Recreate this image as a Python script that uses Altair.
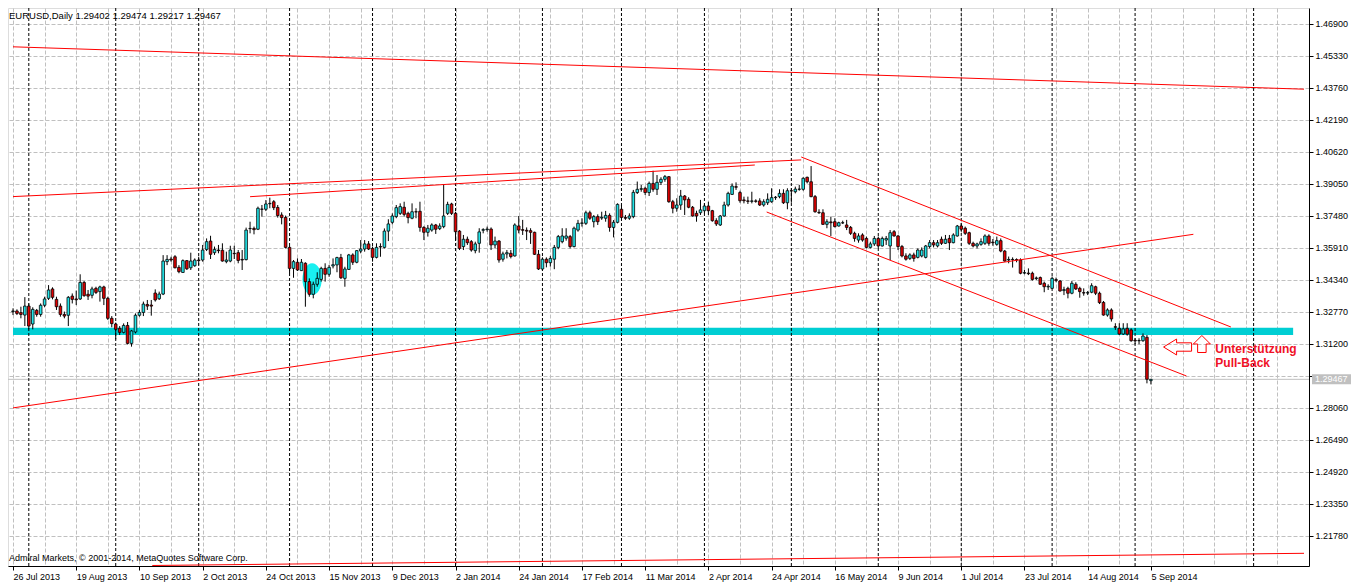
import json
import altair as alt
import pandas as pd

# ---------------- data (EURUSD daily) ----------------
OPEN = [
 1.3279, 1.3282, 1.3274, 1.3262, 1.3306, 1.3218, 1.3285, 1.3265, 1.3310, 1.3344,
 1.3390, 1.3339, 1.3306, 1.3265, 1.3261, 1.3355, 1.3341, 1.3341, 1.3422, 1.3364,
 1.3359, 1.3393, 1.3377, 1.3400, 1.3344, 1.3246, 1.3218, 1.3197, 1.3177, 1.3211,
 1.3123, 1.3179, 1.3261, 1.3275, 1.3314, 1.3311, 1.3370, 1.3342, 1.3365, 1.3524,
 1.3537, 1.3548, 1.3496, 1.3471, 1.3529, 1.3494, 1.3504, 1.3532, 1.3532, 1.3584,
 1.3625, 1.3568, 1.3581, 1.3580, 1.3524, 1.3527, 1.3565, 1.3568, 1.3535, 1.3534,
 1.3686, 1.3687, 1.3683, 1.3782, 1.3781, 1.3808, 1.3818, 1.3790, 1.3753, 1.3741,
 1.3594, 1.3491, 1.3521, 1.3480, 1.3516, 1.3426, 1.3364, 1.3413, 1.3437, 1.3491,
 1.3462, 1.3503, 1.3508, 1.3544, 1.3442, 1.3486, 1.3557, 1.3521, 1.3576, 1.3586,
 1.3611, 1.3589, 1.3545, 1.3598, 1.3594, 1.3674, 1.3717, 1.3745, 1.3761, 1.3791,
 1.3761, 1.3737, 1.3769, 1.3771, 1.3692, 1.3668, 1.3679, 1.3704, 1.3686, 1.3696,
 1.3761, 1.3807, 1.3761, 1.3674, 1.3598, 1.3634, 1.3622, 1.3578, 1.3614, 1.3678,
 1.3681, 1.3684, 1.3606, 1.3625, 1.3536, 1.3562, 1.3565, 1.3552, 1.3699, 1.3681,
 1.3678, 1.3676, 1.3668, 1.3560, 1.3488, 1.3536, 1.3519, 1.3536, 1.3594, 1.3622,
 1.3639, 1.3647, 1.3598, 1.3679, 1.3712, 1.3712, 1.3764, 1.3720, 1.3745, 1.3738,
 1.3737, 1.3751, 1.3692, 1.3717, 1.3781, 1.3741, 1.3737, 1.3745, 1.3863, 1.3879,
 1.3884, 1.3863, 1.3908, 1.3879, 1.3913, 1.3928, 1.3941, 1.3818, 1.3786, 1.3802,
 1.3846, 1.3830, 1.3791, 1.3761, 1.3764, 1.3774, 1.3797, 1.3774, 1.3725, 1.3704,
 1.3748, 1.3802, 1.3854, 1.3892, 1.3863, 1.3827, 1.3822, 1.3820, 1.3822, 1.3822,
 1.3802, 1.3813, 1.3818, 1.3838, 1.3843, 1.3859, 1.3813, 1.3872, 1.3867, 1.3879,
 1.3879, 1.3938, 1.3916, 1.3843, 1.3766, 1.3764, 1.3707, 1.3719, 1.3720, 1.3699,
 1.3714, 1.3704, 1.3692, 1.3663, 1.3630, 1.3655, 1.3638, 1.3594, 1.3611, 1.3638,
 1.3601, 1.3630, 1.3601, 1.3671, 1.3650, 1.3598, 1.3552, 1.3540, 1.3557, 1.3545,
 1.3552, 1.3545, 1.3598, 1.3617, 1.3601, 1.3634, 1.3614, 1.3638, 1.3617, 1.3650,
 1.3699, 1.3688, 1.3666, 1.3614, 1.3601, 1.3609, 1.3614, 1.3650, 1.3620, 1.3609,
 1.3627, 1.3576, 1.3532, 1.3535, 1.3534, 1.3532, 1.3468, 1.3468, 1.3467, 1.3441,
 1.3446, 1.3418, 1.3400, 1.3393, 1.3436, 1.3429, 1.3382, 1.3393, 1.3369, 1.3413,
 1.3393, 1.3372, 1.3370, 1.3374, 1.3401, 1.3369, 1.3324, 1.3262, 1.3287, 1.3205,
 1.3197, 1.3169, 1.3197, 1.3189, 1.3138, 1.3136, 1.3136, 1.3153, 1.29402,
]
HIGH = [
 1.3295, 1.3290, 1.3303, 1.3350, 1.3319, 1.3300, 1.3292, 1.3319, 1.3352, 1.3409,
 1.3398, 1.3352, 1.3319, 1.3279, 1.3355, 1.3368, 1.3382, 1.3462, 1.3429, 1.3385,
 1.3401, 1.3401, 1.3406, 1.3406, 1.3352, 1.3257, 1.3225, 1.3208, 1.3221, 1.3228,
 1.3189, 1.3270, 1.3287, 1.3328, 1.3336, 1.3336, 1.3388, 1.3377, 1.3556, 1.3556,
 1.3548, 1.3556, 1.3507, 1.3535, 1.3532, 1.3568, 1.3540, 1.3548, 1.3606, 1.3638,
 1.3651, 1.3598, 1.3606, 1.3614, 1.3573, 1.3602, 1.3602, 1.3581, 1.3581, 1.3691,
 1.3720, 1.3696, 1.3794, 1.3802, 1.3826, 1.3838, 1.3826, 1.3802, 1.3766, 1.3750,
 1.3601, 1.3532, 1.3540, 1.3537, 1.3521, 1.3442, 1.3426, 1.3472, 1.3499, 1.3516,
 1.3508, 1.3540, 1.3548, 1.3562, 1.3499, 1.3562, 1.3565, 1.3581, 1.3630, 1.3630,
 1.3625, 1.3598, 1.3614, 1.3614, 1.3687, 1.3732, 1.3761, 1.3802, 1.3810, 1.3818,
 1.3769, 1.3810, 1.3786, 1.3818, 1.3698, 1.3704, 1.3712, 1.3709, 1.3712, 1.3905,
 1.3818, 1.3813, 1.3769, 1.3679, 1.3655, 1.3647, 1.3630, 1.3622, 1.3688, 1.3688,
 1.3696, 1.3692, 1.3647, 1.3630, 1.3573, 1.3581, 1.3581, 1.3712, 1.3748, 1.3729,
 1.3692, 1.3688, 1.3671, 1.3581, 1.3545, 1.3545, 1.3552, 1.3606, 1.3655, 1.3688,
 1.3688, 1.3655, 1.3696, 1.3729, 1.3737, 1.3774, 1.3774, 1.3753, 1.3756, 1.3769,
 1.3773, 1.3761, 1.3728, 1.3810, 1.3802, 1.3753, 1.3761, 1.3876, 1.3917, 1.3900,
 1.3892, 1.3917, 1.3970, 1.3949, 1.3938, 1.3949, 1.3944, 1.3827, 1.3835, 1.3876,
 1.3851, 1.3840, 1.3797, 1.3774, 1.3827, 1.3810, 1.3818, 1.3778, 1.3737, 1.3753,
 1.3818, 1.3867, 1.3908, 1.3913, 1.3872, 1.3843, 1.3843, 1.3867, 1.3830, 1.3835,
 1.3830, 1.3859, 1.3884, 1.3846, 1.3879, 1.3879, 1.3884, 1.3884, 1.3892, 1.3900,
 1.3938, 1.3941, 1.3993, 1.3851, 1.3781, 1.3781, 1.3732, 1.3745, 1.3737, 1.3720,
 1.3725, 1.3729, 1.3699, 1.3671, 1.3663, 1.3663, 1.3647, 1.3622, 1.3650, 1.3647,
 1.3647, 1.3650, 1.3679, 1.3679, 1.3655, 1.3606, 1.3565, 1.3565, 1.3568, 1.3589,
 1.3594, 1.3606, 1.3630, 1.3630, 1.3630, 1.3647, 1.3655, 1.3655, 1.3663, 1.3704,
 1.3712, 1.3696, 1.3671, 1.3622, 1.3617, 1.3638, 1.3658, 1.3658, 1.3635, 1.3647,
 1.3638, 1.3581, 1.3549, 1.3545, 1.3540, 1.3540, 1.3483, 1.3491, 1.3475, 1.3451,
 1.3451, 1.3426, 1.3413, 1.3451, 1.3446, 1.3434, 1.3401, 1.3401, 1.3429, 1.3423,
 1.3401, 1.3393, 1.3380, 1.3418, 1.3406, 1.3377, 1.3331, 1.3295, 1.3295, 1.3222,
 1.3222, 1.3222, 1.3222, 1.3197, 1.3148, 1.3148, 1.3172, 1.3164, 1.29474,
]
LOW = [
 1.3262, 1.3262, 1.3246, 1.3208, 1.3192, 1.3192, 1.3254, 1.3254, 1.3300, 1.3336,
 1.3339, 1.3287, 1.3254, 1.3246, 1.3208, 1.3319, 1.3311, 1.3336, 1.3352, 1.3336,
 1.3344, 1.3365, 1.3328, 1.3311, 1.3238, 1.3202, 1.3143, 1.3164, 1.3172, 1.3118,
 1.3107, 1.3172, 1.3254, 1.3257, 1.3287, 1.3259, 1.3328, 1.3336, 1.3360, 1.3507,
 1.3524, 1.3491, 1.3467, 1.3470, 1.3483, 1.3483, 1.3499, 1.3507, 1.3524, 1.3576,
 1.3537, 1.3557, 1.3565, 1.3524, 1.3516, 1.3521, 1.3537, 1.3516, 1.3483, 1.3530,
 1.3663, 1.3658, 1.3679, 1.3745, 1.3772, 1.3786, 1.3777, 1.3740, 1.3707, 1.3589,
 1.3467, 1.3445, 1.3478, 1.3478, 1.3303, 1.3352, 1.3344, 1.3401, 1.3426, 1.3426,
 1.3450, 1.3491, 1.3472, 1.3439, 1.3401, 1.3483, 1.3508, 1.3516, 1.3565, 1.3573,
 1.3581, 1.3524, 1.3540, 1.3548, 1.3589, 1.3625, 1.3707, 1.3737, 1.3753, 1.3745,
 1.3712, 1.3732, 1.3737, 1.3671, 1.3630, 1.3647, 1.3671, 1.3660, 1.3679, 1.3688,
 1.3753, 1.3753, 1.3630, 1.3581, 1.3581, 1.3606, 1.3573, 1.3565, 1.3568, 1.3663,
 1.3671, 1.3581, 1.3589, 1.3519, 1.3524, 1.3540, 1.3540, 1.3549, 1.3663, 1.3655,
 1.3630, 1.3611, 1.3557, 1.3483, 1.3480, 1.3496, 1.3500, 1.3487, 1.3585, 1.3614,
 1.3627, 1.3589, 1.3594, 1.3671, 1.3696, 1.3704, 1.3729, 1.3692, 1.3704, 1.3729,
 1.3720, 1.3671, 1.3643, 1.3712, 1.3732, 1.3729, 1.3729, 1.3737, 1.3856, 1.3867,
 1.3851, 1.3846, 1.3867, 1.3851, 1.3900, 1.3916, 1.3813, 1.3761, 1.3769, 1.3778,
 1.3753, 1.3786, 1.3745, 1.3720, 1.3753, 1.3761, 1.3753, 1.3720, 1.3699, 1.3699,
 1.3745, 1.3794, 1.3851, 1.3876, 1.3813, 1.3810, 1.3807, 1.3810, 1.3813, 1.3797,
 1.3794, 1.3802, 1.3813, 1.3827, 1.3835, 1.3807, 1.3781, 1.3813, 1.3859, 1.3872,
 1.3872, 1.3908, 1.3840, 1.3764, 1.3758, 1.3704, 1.3688, 1.3650, 1.3692, 1.3696,
 1.3709, 1.3679, 1.3655, 1.3622, 1.3617, 1.3622, 1.3589, 1.3589, 1.3601, 1.3589,
 1.3598, 1.3606, 1.3532, 1.3647, 1.3581, 1.3545, 1.3529, 1.3532, 1.3524, 1.3540,
 1.3545, 1.3540, 1.3589, 1.3594, 1.3594, 1.3606, 1.3611, 1.3581, 1.3614, 1.3647,
 1.3671, 1.3655, 1.3606, 1.3594, 1.3589, 1.3602, 1.3606, 1.3602, 1.3602, 1.3602,
 1.3570, 1.3524, 1.3516, 1.3495, 1.3521, 1.3462, 1.3462, 1.3458, 1.3431, 1.3434,
 1.3410, 1.3374, 1.3385, 1.3390, 1.3423, 1.3377, 1.3360, 1.3344, 1.3364, 1.3385,
 1.3347, 1.3357, 1.3360, 1.3369, 1.3360, 1.3316, 1.3259, 1.3254, 1.3230, 1.3189,
 1.3164, 1.3164, 1.3161, 1.3131, 1.3119, 1.3119, 1.3131, 1.2927, 1.29217,
]
CLOSE = [
 1.3282, 1.3270, 1.3265, 1.3306, 1.3208, 1.3290, 1.3265, 1.3310, 1.3341, 1.3385,
 1.3349, 1.3303, 1.3265, 1.3257, 1.3349, 1.3339, 1.3337, 1.3422, 1.3357, 1.3355,
 1.3390, 1.3373, 1.3400, 1.3344, 1.3246, 1.3220, 1.3192, 1.3177, 1.3211, 1.3123,
 1.3184, 1.3261, 1.3275, 1.3316, 1.3306, 1.3306, 1.3336, 1.3365, 1.3527, 1.3535,
 1.3532, 1.3494, 1.3475, 1.3529, 1.3489, 1.3527, 1.3532, 1.3529, 1.3581, 1.3622,
 1.3560, 1.3584, 1.3578, 1.3527, 1.3532, 1.3581, 1.3563, 1.3530, 1.3532, 1.3679,
 1.3687, 1.3681, 1.3786, 1.3781, 1.3807, 1.3810, 1.3789, 1.3750, 1.3740, 1.3594,
 1.3491, 1.3524, 1.3483, 1.3521, 1.3426, 1.3364, 1.3413, 1.3442, 1.3491, 1.3462,
 1.3496, 1.3509, 1.3544, 1.3445, 1.3488, 1.3557, 1.3521, 1.3578, 1.3586, 1.3611,
 1.3586, 1.3545, 1.3594, 1.3596, 1.3674, 1.3709, 1.3748, 1.3789, 1.3794, 1.3756,
 1.3740, 1.3769, 1.3768, 1.3692, 1.3668, 1.3688, 1.3704, 1.3683, 1.3699, 1.3748,
 1.3805, 1.3761, 1.3671, 1.3589, 1.3634, 1.3617, 1.3581, 1.3611, 1.3670, 1.3681,
 1.3684, 1.3606, 1.3625, 1.3532, 1.3562, 1.3568, 1.3549, 1.3704, 1.3679, 1.3678,
 1.3674, 1.3668, 1.3560, 1.3488, 1.3536, 1.3519, 1.3540, 1.3594, 1.3647, 1.3650,
 1.3650, 1.3598, 1.3688, 1.3712, 1.3714, 1.3764, 1.3737, 1.3745, 1.3720, 1.3742,
 1.3751, 1.3692, 1.3717, 1.3805, 1.3741, 1.3737, 1.3748, 1.3864, 1.3879, 1.3882,
 1.3863, 1.3908, 1.3879, 1.3913, 1.3928, 1.3941, 1.3818, 1.3786, 1.3802, 1.3846,
 1.3827, 1.3791, 1.3748, 1.3748, 1.3778, 1.3797, 1.3774, 1.3725, 1.3709, 1.3748,
 1.3802, 1.3859, 1.3895, 1.3889, 1.3823, 1.3823, 1.3820, 1.3822, 1.3820, 1.3802,
 1.3818, 1.3830, 1.3838, 1.3840, 1.3859, 1.3813, 1.3872, 1.3871, 1.3880, 1.3880,
 1.3933, 1.3916, 1.3843, 1.3769, 1.3764, 1.3707, 1.3720, 1.3715, 1.3696, 1.3715,
 1.3715, 1.3692, 1.3663, 1.3638, 1.3650, 1.3630, 1.3594, 1.3611, 1.3638, 1.3601,
 1.3638, 1.3638, 1.3666, 1.3650, 1.3598, 1.3552, 1.3536, 1.3557, 1.3540, 1.3581,
 1.3581, 1.3601, 1.3617, 1.3606, 1.3617, 1.3614, 1.3634, 1.3617, 1.3655, 1.3699,
 1.3683, 1.3663, 1.3614, 1.3601, 1.3611, 1.3622, 1.3650, 1.3614, 1.3617, 1.3627,
 1.3576, 1.3527, 1.3535, 1.3534, 1.3532, 1.3467, 1.3470, 1.3465, 1.3437, 1.3444,
 1.3413, 1.3401, 1.3403, 1.3442, 1.3432, 1.3380, 1.3387, 1.3369, 1.3418, 1.3390,
 1.3377, 1.3370, 1.3372, 1.3406, 1.3369, 1.3323, 1.3262, 1.3287, 1.3243, 1.3202,
 1.3169, 1.3194, 1.3168, 1.3136, 1.3135, 1.3137, 1.3159, 1.2947, 1.29467,
]

DATE_LABELS = ["26 Jul 2013", "19 Aug 2013", "10 Sep 2013", "2 Oct 2013", "24 Oct 2013",
               "15 Nov 2013", "9 Dec 2013", "2 Jan 2014", "24 Jan 2014", "17 Feb 2014",
               "11 Mar 2014", "2 Apr 2014", "24 Apr 2014", "16 May 2014", "9 Jun 2014",
               "1 Jul 2014", "23 Jul 2014", "14 Aug 2014", "5 Sep 2014"]
LABEL_STEP = 16      # bars between date labels
GRID_STEP = 8        # bars between vertical grid lines
PRICE_TICKS = [1.2178, 1.2335, 1.2492, 1.2649, 1.2806, 1.2963, 1.3120, 1.3277, 1.3434,
               1.3591, 1.3748, 1.3905, 1.4062, 1.4219, 1.4376, 1.4533, 1.4690]
MONTH_STARTS = [4, 26, 47, 70, 91, 112, 134, 154, 175, 197, 219, 240, 263, 284, 314]

# trend lines: (bar index, price) start and end
LINE_I1 = [0, 0, 60, 199.5, 190.75, 0, 35.25]
LINE_P1 = [1.45781, 1.38432, 1.38427, 1.40375, 1.37676, 1.28065, 1.20333]
LINE_I2 = [326.75, 199.5, 187.75, 308.25, 297, 298.75, 326.75]
LINE_P2 = [1.43701, 1.40232, 1.39982, 1.32034, 1.29630, 1.36582, 1.20931]

SUPPORT_I = [0, 324]
SUPPORT_P = [1.31999, 1.31642]
ELLIPSE_I, ELLIPSE_P = [75.7], [1.34379]
LEFT_ARROW_I, LEFT_ARROW_P = [294.75], [1.31052]
UP_ARROW_I, UP_ARROW_P = [300.9], [1.3120]
NOTE_TEXT = ["Unterstützung", "Pull-Back"]
NOTE_I = [304.3, 304.3]
NOTE_P = [1.30758, 1.30086]
HEADER = "EURUSD,Daily  1.29402 1.29474 1.29217 1.29467"
COPYRIGHT = "Admiral Markets, \u00a9 2001-2014, MetaQuotes Software Corp."

# ---------------- styling ----------------
W, H = 1301, 558
X_DOMAIN = [0, 326.75]
Y_DOMAIN = [1.20308, 1.47685]
FONT = "Liberation Sans"
BULL, BEAR = "#22e4e8", "#e00000"
BAND = "#00ced3"
ELLIPSE_FILL = "#19f0f0"
RED = "#ff0000"
NOTE_RED = "#f01025"
GRID = "#c0c0c0"
LAST = CLOSE[-1]

xs = alt.Scale(domain=X_DOMAIN, nice=False, zero=False)
ys = alt.Scale(domain=Y_DOMAIN, nice=False, zero=False)

last_label_bar = LABEL_STEP * (len(DATE_LABELS) - 1)
label_expr = (f"(datum.value % {LABEL_STEP} === 0 && datum.value <= {last_label_bar}) ? "
              f"{json.dumps(DATE_LABELS)}[datum.value / {LABEL_STEP}] : ''")
x_axis = alt.Axis(
    values=list(range(0, int(X_DOMAIN[1]) + 1, GRID_STEP)),
    grid=True, gridColor=GRID, gridDash=[4, 2], gridWidth=1,
    labelExpr=label_expr, labelAlign="left", labelPadding=2,
    labelFont=FONT, labelFontSize=9, labelColor="black",
    labelOverlap=False, labelBound=False, labelFlush=False,
    tickColor="black", tickSize=4,
    tickOpacity={"condition": {"test": f"datum.value % {LABEL_STEP} === 0 && datum.value <= {last_label_bar}",
                               "value": 1}, "value": 0},
    domainColor="black", title=None,
)
# the tick label that sits behind the last-price box is left blank, as in the reference
y_axis = alt.Axis(
    orient="right", values=PRICE_TICKS,
    labelExpr=f"abs(datum.value - {LAST}) < 0.004 ? '' : format(datum.value, '.5f')",
    grid=True, gridColor=GRID, gridDash=[4, 2], gridWidth=1,
    labelFont=FONT, labelFontSize=9, labelColor="black", labelPadding=2,
    labelOverlap=False, labelFlush=False, labelBound=False,
    tickColor="black", tickSize=4, domainColor="black", title=None,
)


def X(field):
    return alt.X(f"{field}:Q", scale=xs, axis=x_axis)


def Y(field):
    return alt.Y(f"{field}:Q", scale=ys, axis=y_axis)


candles = pd.DataFrame({"i": list(range(len(CLOSE))), "o": OPEN, "h": HIGH, "l": LOW, "c": CLOSE})
candles["dir"] = ["up" if c > o else "down" for o, c in zip(OPEN, CLOSE)]

band = alt.Chart(pd.DataFrame({"i": [SUPPORT_I[0]], "i2": [SUPPORT_I[1]],
                               "p": [SUPPORT_P[0]], "p2": [SUPPORT_P[1]]})).mark_rect(
    color=BAND, clip=True).encode(x=X("i"), x2="i2", y=Y("p"), y2="p2")

ellipse_path = "M -0.609 0 A 0.609 1 0 1 0 0.609 0 A 0.609 1 0 1 0 -0.609 0 Z"
ellipse = alt.Chart(pd.DataFrame({"i": ELLIPSE_I, "p": ELLIPSE_P})).mark_point(
    shape=ellipse_path, filled=True, fill=ELLIPSE_FILL, size=1005, opacity=1, strokeWidth=0
).encode(x=X("i"), y=Y("p"))

last_line = alt.Chart(pd.DataFrame({"p": [LAST]})).mark_rule(
    color=GRID, strokeWidth=1).encode(y=Y("p"))

seps = alt.Chart(pd.DataFrame({"i": MONTH_STARTS})).mark_rule(
    color="black", strokeWidth=1, strokeDash=[3, 2]).encode(x=X("i"))

wicks = alt.Chart(candles).mark_rule(color="black", strokeWidth=1, clip=True).encode(
    x=X("i"), y=Y("l"), y2="h")

bodies = alt.Chart(candles).mark_bar(size=2.6, stroke="black", strokeWidth=0.8, clip=True).encode(
    x=X("i"), y=Y("o"), y2="c",
    color=alt.Color("dir:N", scale=alt.Scale(domain=["up", "down"], range=[BULL, BEAR]), legend=None))

lines = alt.Chart(pd.DataFrame({"i": LINE_I1, "p": LINE_P1, "i2": LINE_I2, "p2": LINE_P2})).mark_rule(
    color=RED, strokeWidth=1, clip=True).encode(x=X("i"), y=Y("p"), x2="i2", y2="p2")

left_arrow = alt.Chart(pd.DataFrame({"i": LEFT_ARROW_I, "p": LEFT_ARROW_P})).mark_point(
    shape="M -1 0 L -0.07 -0.57 L -0.07 -0.3 L 1 -0.3 L 1 0.3 L -0.07 0.3 L -0.07 0.57 Z",
    filled=False, stroke=RED, strokeWidth=1, size=784, opacity=1).encode(x=X("i"), y=Y("p"))

up_arrow = alt.Chart(pd.DataFrame({"i": UP_ARROW_I, "p": UP_ARROW_P})).mark_point(
    shape="M 0 -1 L 1 0 L 0.5 0 L 0.5 1 L -0.5 1 L -0.5 0 L -1 0 Z",
    filled=False, stroke=RED, strokeWidth=1, size=289, opacity=1).encode(x=X("i"), y=Y("p"))

notes = alt.Chart(pd.DataFrame({"i": NOTE_I, "p": NOTE_P, "t": NOTE_TEXT})).mark_text(
    align="left", baseline="alphabetic", font=FONT, fontSize=12, fontWeight="bold", color=NOTE_RED
).encode(x=X("i"), y=Y("p"), text="t:N")

header = alt.Chart(pd.DataFrame({"t": [HEADER]})).mark_text(
    align="left", baseline="alphabetic", font=FONT, fontSize=9.5, color="black"
).encode(x=alt.value(1), y=alt.value(11), text="t:N")

copyright_txt = alt.Chart(pd.DataFrame({"t": [COPYRIGHT]})).mark_text(
    align="left", baseline="alphabetic", font=FONT, fontSize=9, color="black"
).encode(x=alt.value(1), y=alt.value(553), text="t:N")

price_df = pd.DataFrame({"p": [LAST], "t": [f"{LAST:.5f}"]})
price_box = alt.Chart(price_df).mark_rect(color=GRID, yOffset=-5, y2Offset=5).encode(
    x=alt.value(W + 3), x2=alt.value(W + 42), y=Y("p"), y2="p")
price_txt = alt.Chart(price_df).mark_text(
    align="left", baseline="middle", font=FONT, fontSize=9, color="white"
).encode(x=alt.value(W + 6), y=Y("p"), text="t:N")

chart = alt.layer(
    band, ellipse, last_line, seps, wicks, bodies, lines,
    left_arrow, up_arrow, notes, header, copyright_txt, price_box, price_txt
).properties(
    width=W, height=H,
    autosize=alt.AutoSizeParams(type="none"),
    padding={"left": 0, "top": 0, "right": 44, "bottom": 16},
).configure_view(stroke="black", strokeWidth=1).configure(background="white")

chart.save("out.html", embed_options={"renderer": "svg", "actions": False})
